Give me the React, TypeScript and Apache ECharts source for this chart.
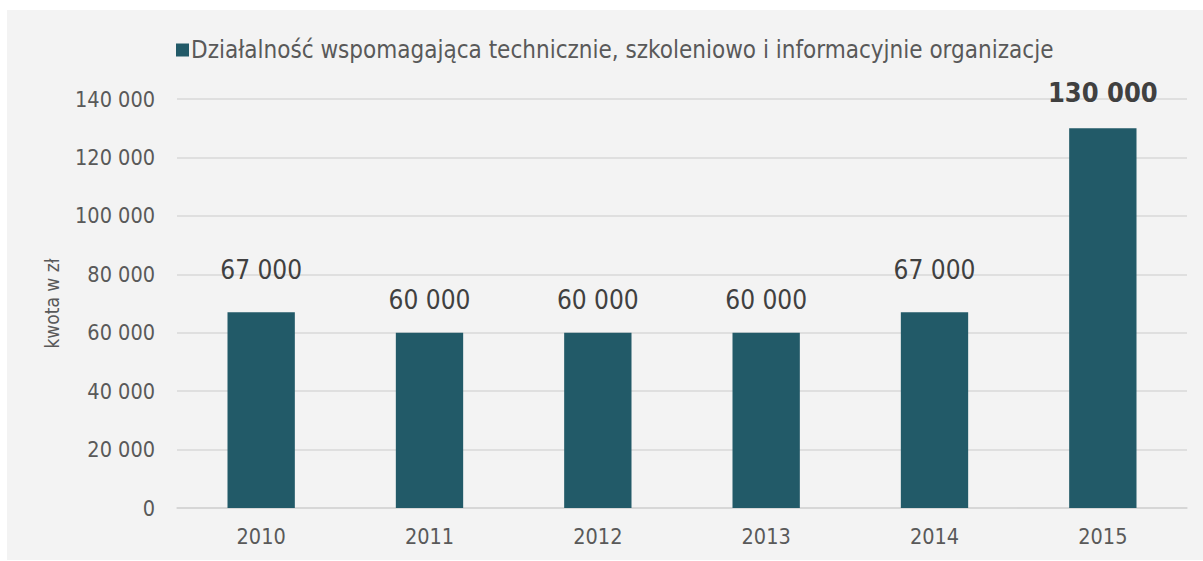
import React, { useEffect, useRef } from "react";
import * as echarts from "echarts";

const categories = ["2010", "2011", "2012", "2013", "2014", "2015"];
const values = [67000, 60000, 60000, 60000, 67000, 130000];
const seriesName = "Działalność wspomagająca technicznie, szkoleniowo i informacyjnie organizacje";
const yAxisName = "kwota w zł";

const FONT = "'DejaVu Sans Condensed', 'Noto Sans', sans-serif";

const fmt = (v: number) => String(v).replace(/\B(?=(\d{3})+(?!\d))/g, " ");

export default function App() {
  const ref = useRef<HTMLDivElement>(null);
  useEffect(() => {
    if (!ref.current) return;
    const chart = echarts.init(ref.current, undefined, { renderer: "svg" });
    const maxV = Math.max(...values);
    chart.setOption({
      animation: false,
      backgroundColor: "#ffffff",
      graphic: [
        {
          type: "rect",
          z: -10,
          shape: { x: 7, y: 10, width: 1196, height: 550 },
          style: { fill: "#f3f3f3" },
          silent: true,
        },
      ],
      legend: {
        left: 171,
        top: 33,
        itemWidth: 13,
        itemHeight: 13,
        itemGap: 0,
        icon: "rect",
        textStyle: { fontFamily: FONT, fontSize: 24, color: "#595959", padding: [0, 0, 0, -3] },
        data: [seriesName],
      },
      grid: { left: 177, right: 16, top: 99, bottom: 53 },
      xAxis: {
        type: "category",
        data: categories,
        axisTick: { show: false },
        axisLine: { lineStyle: { color: "#d4d4d4", width: 1.5 } },
        axisLabel: { fontFamily: FONT, fontSize: 21.5, color: "#595959", margin: 17 },
      },
      yAxis: {
        type: "value",
        min: 0,
        max: 140000,
        interval: 20000,
        name: yAxisName,
        nameLocation: "middle",
        nameGap: 116,
        nameTextStyle: { fontFamily: FONT, fontSize: 19, color: "#595959" },
        axisLine: { show: false },
        axisTick: { show: false },
        splitLine: { lineStyle: { color: "#d9d9d9", width: 1.5 } },
        axisLabel: { fontFamily: FONT, fontSize: 21.5, color: "#595959", margin: 22, formatter: (v: number) => fmt(v) },
      },
      series: [
        {
          name: seriesName,
          type: "bar",
          barWidth: "40%",
          itemStyle: { color: "#225a68" },
          label: {
            show: true,
            position: "top",
            distance: 20,
            fontFamily: FONT,
            fontSize: 26,
            color: "#404040",
            formatter: (p: any) => fmt(p.value),
          },
          data: values.map((v) => ({
            value: v,
            label:
              v === maxV
                ? { fontWeight: "bold", fontSize: 27, distance: 22 }
                : v === 67000
                ? { distance: 29 }
                : undefined,
          })),
        },
      ],
    });
    return () => chart.dispose();
  }, []);
  return (
    <div
      ref={ref}
      style={{ position: "absolute", left: 0, top: 0, width: 1203, height: 561 }}
    />
  );
}
